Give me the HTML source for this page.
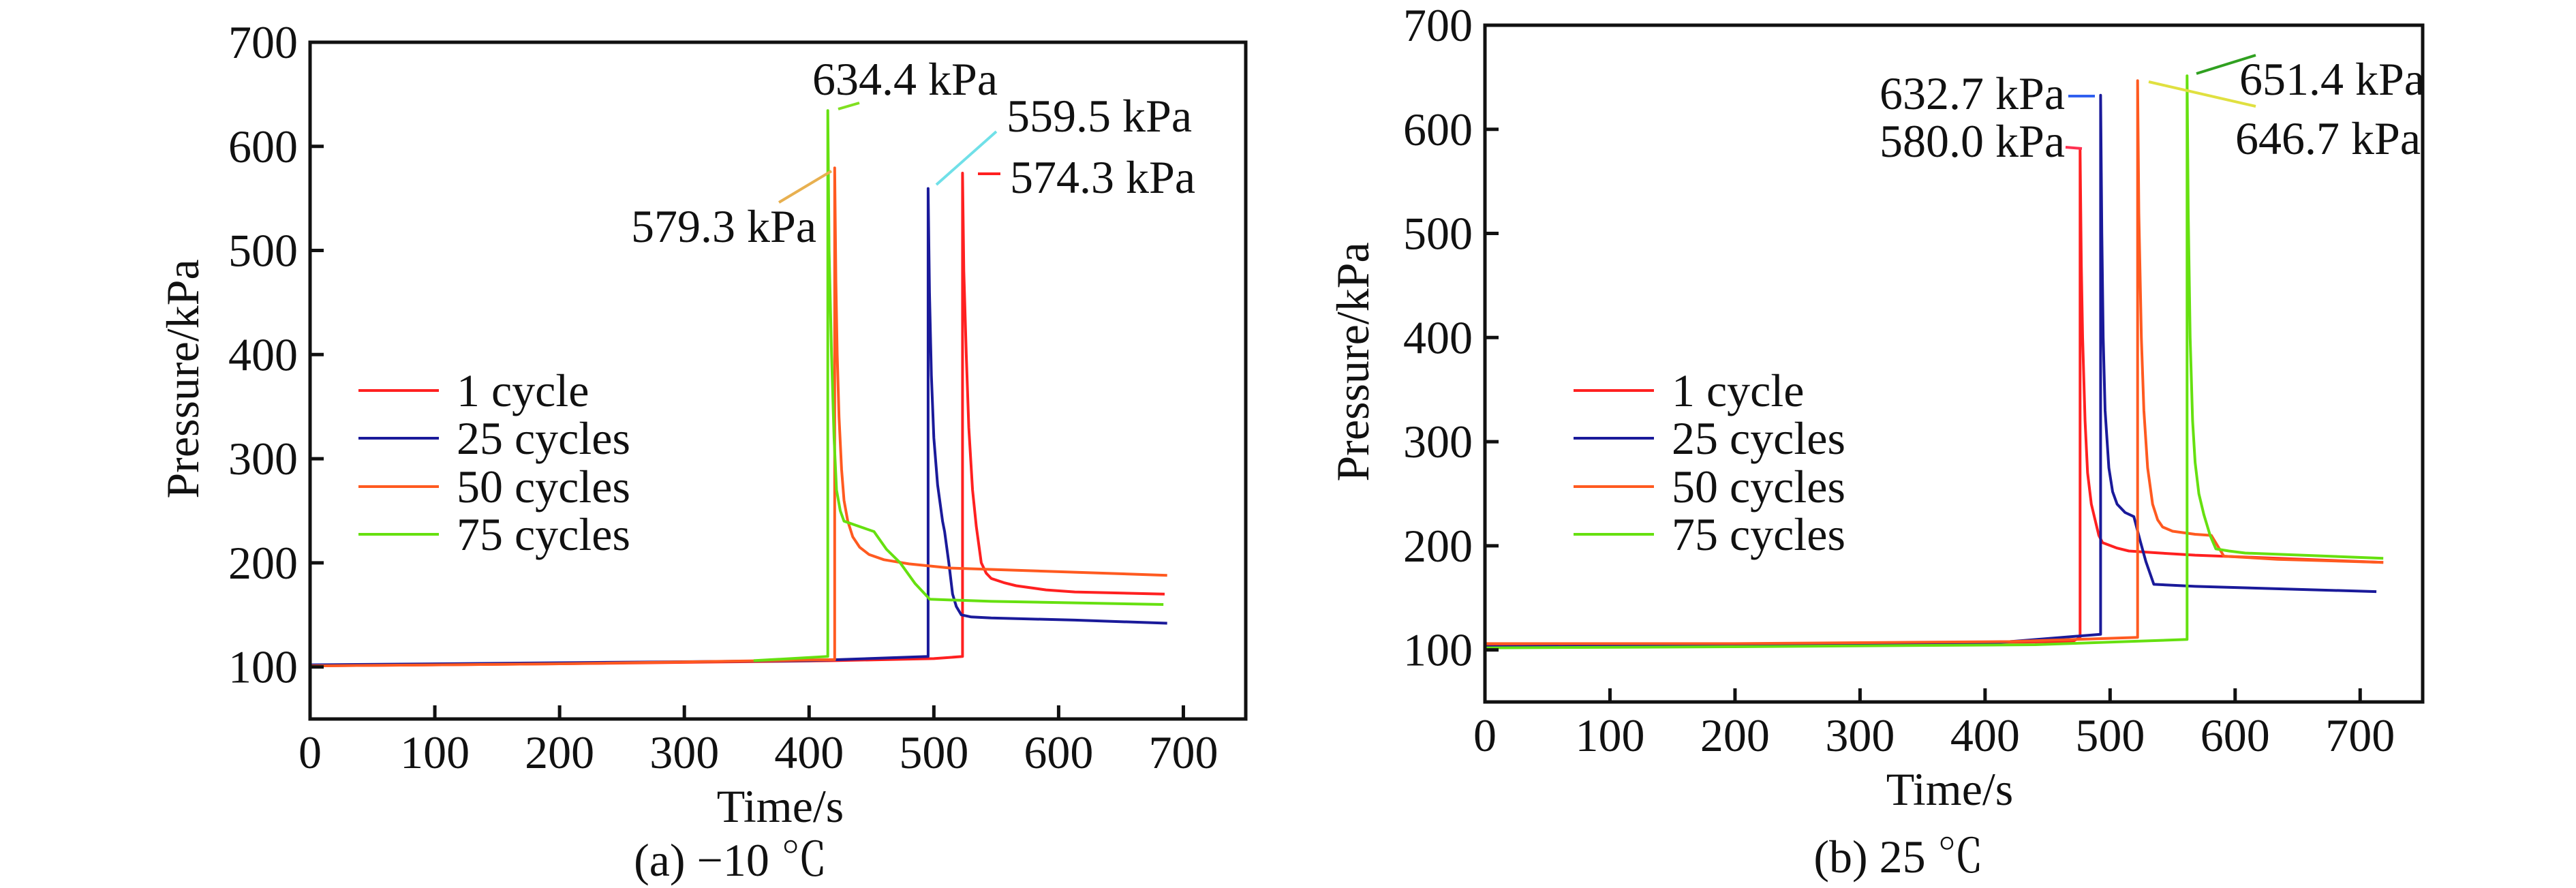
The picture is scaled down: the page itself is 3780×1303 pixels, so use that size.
<!DOCTYPE html>
<html><head><meta charset="utf-8"><style>
html,body{margin:0;padding:0;background:#fff;}
svg{display:block;}
text{font-family:"Liberation Serif","Noto Serif CJK SC",serif;font-size:68px;fill:#111;}
</style></head><body>
<svg id="fig" width="3780" height="1303" viewBox="0 0 3780 1303" xmlns="http://www.w3.org/2000/svg">
<g id="pa"></g>
<g id="pb"></g>
</svg>
<script>
// Panel (a) -10 C data
const a_t1 = [0,200,420,500,523,523,524,526,528,531,534,538,542,546,556,566,590,613,685];
const a_p1 = [101,103,106,108,110,574.3,480,400,330,270,235,200,190,185,181,178,174,172,170];
const a_t25 = [0,200,400,495.4,495.4,496.5,498,500,503,507,508.6,512,515,518,522,530,546,613,687];
const a_p25 = [102,104,106,110,559.5,460,380,320,275,240,230,200,170,158,150,148,147,145,142];
const a_t50 = [0,200,420.5,420.5,421.5,422.5,424,426,428,431,435,440.5,448,460,480,513,687];
const a_p50 = [101,103,107,579.3,470,400,340,290,260,240,225,215,208,203,199,195,188];
const a_t75 = [355.5,415,415,416,418,420,422,425,428,440,452,462,473,485,496.7,546,684];
const a_p75 = [106,110,634.4,500,400,320,270,250,240,235,230,213,200,180,165,163,160];
// Panel (b) 25 C data
const b_t1 = [0,200,470,476,476,477,478,480,482,485,488,491,494,505,515,540,568,634,718.5];
const b_p1 = [104,105,108,112,580.0,470,400,320,270,240,225,210,203,198,195,193,191,188,184];
const b_t25 = [0,200,400,492.4,492.4,493.4,494.5,496,499,502,505.6,512,519,524,528.6,535,568,713];
const b_p25 = [103,104,106,115,632.7,500,400,330,275,252,240,232,228,205,185,163,161,156];
const b_t50 = [0,200,420,522,522,523,525,527,530,534,538,542,550,568,581,591,634,718.5];
const b_p50 = [106,106,108,112,646.7,520,400,330,275,240,225,218,214,211,210,190,187,184];
const b_t75 = [0,200,440,561.6,561.6,562.5,564,566,568,571,575,580,584.6,595,608,718.5];
const b_p75 = [102,103,105,110,651.4,520,400,320,280,250,230,210,197,195,193,188];
const xTicks = [0,100,200,300,400,500,600,700];
const yTicks = [100,200,300,400,500,600,700];
const legendLabels = ["1 cycle","25 cycles","50 cycles","75 cycles"];
const colors = ["#ff2020","#1a1a9a","#ff5a20","#66e010"];

const NS="http://www.w3.org/2000/svg";
function mk(parent,tag,attrs){const e=document.createElementNS(NS,tag);for(const k in attrs)e.setAttribute(k,attrs[k]);parent.appendChild(e);return e;}

function panel(g,cfg){
  const L=cfg.left,T=cfg.top,B=cfg.bottom,R=cfg.right;
  const sx=t=>L+(t-0)/750*(R-L);
  const sy=p=>B-(p-50)/650*(B-T);
  cfg.series.forEach((s,i)=>{
    const d=s.t.map((t,j)=>(j?'L':'M')+sx(t).toFixed(1)+' '+sy(s.p[j]).toFixed(1)).join(' ');
    const p=mk(g,'path',{d:d,fill:'none',stroke:colors[i],'stroke-width':4,'stroke-linejoin':'round'});
    
    
  });
  const f=mk(g,'rect',{x:L,y:T,width:R-L,height:B-T,fill:'none',stroke:'#111','stroke-width':5});
  
  
  xTicks.forEach(v=>{
    const x=sx(v);
    if(v>0){const tk=mk(g,'line',{x1:x,x2:x,y1:B,y2:B-20,stroke:'#111','stroke-width':5});
      
      }
    const tx=mk(g,'text',{x:x,y:cfg.xLabY+23,'text-anchor':'middle'});tx.textContent=v;
    
    
  });
  yTicks.forEach(v=>{
    const y=sy(v);
    if(v<700){const tk=mk(g,'line',{x1:L,x2:L+20,y1:y,y2:y,stroke:'#111','stroke-width':5});
      
      }
    const tx=mk(g,'text',{x:L-18,y:y+23,'text-anchor':'end'});tx.textContent=v;
    
    
  });
  const xt=mk(g,'text',{x:cfg.xTitle[0],y:cfg.xTitle[1]+23,'text-anchor':'middle'});xt.textContent='Time/s';
  
  
  const yt=mk(g,'text',{x:0,y:0,'text-anchor':'middle',transform:'translate('+(cfg.yTitle[0]+23)+','+cfg.yTitle[1]+') rotate(-90)'});yt.textContent='Pressure/kPa';
  
  
  const cap=mk(g,'text',{x:cfg.cap[0],y:cfg.cap[1]+23,'text-anchor':'middle'});cap.textContent=cfg.cap[2];
  
  
  legendLabels.forEach((lab,i)=>{
    const y=cfg.legY[i];
    const ln=mk(g,'line',{x1:cfg.legX,x2:cfg.legX+118,y1:y,y2:y,stroke:colors[i],'stroke-width':4});
    
    
    const tx=mk(g,'text',{x:cfg.legX+144,y:y+23});tx.textContent=lab;
    
    
  });
  cfg.notes.forEach(n=>{
    const tx=mk(g,'text',{x:n.x,y:n.y+23});tx.textContent=n.txt;
    
    
    const ln=mk(g,'line',{x1:n.l[0],y1:n.l[1],x2:n.l[2],y2:n.l[3],stroke:n.c,'stroke-width':4});
    
    
  });
}

panel(document.getElementById('pa'),{
  left:455,right:1828,top:62,bottom:1055,
  series:[{t:a_t1,p:a_p1},{t:a_t25,p:a_p25},{t:a_t50,p:a_p50},{t:a_t75,p:a_p75}],
  xLabY:1104,xTitle:[1145,1183],yTitle:[268,556],cap:[1072,1262,'(a) \u221210 \u2103'],
  legX:526,legY:[573,643,714,784],
  notes:[
    {txt:'634.4 kPa',x:1192,y:116,l:[1230,160,1261,151],c:'#80e020'},
    {txt:'559.5 kPa',x:1477,y:170,l:[1374,271,1462,193],c:'#70e0e8'},
    {txt:'574.3 kPa',x:1482,y:260,l:[1435,255,1468,255],c:'#ff2020'},
    {txt:'579.3 kPa',x:926,y:332,l:[1143,297,1220,251],c:'#e8b050'}
  ]
});
panel(document.getElementById('pb'),{
  left:2179,right:3555,top:37,bottom:1030,
  series:[{t:b_t1,p:b_p1},{t:b_t25,p:b_p25},{t:b_t50,p:b_p50},{t:b_t75,p:b_p75}],
  xLabY:1079,xTitle:[2861,1158],yTitle:[1985,531],cap:[2786,1257,'(b) 25 \u2103'],
  legX:2309,legY:[573,643,714,784],
  notes:[
    {txt:'632.7 kPa',x:2758,y:137,l:[3035,141,3074,141],c:'#3060f0'},
    {txt:'580.0 kPa',x:2758,y:207,l:[3031,216,3055,218],c:'#ff3050'},
    {txt:'651.4 kPa',x:3286,y:116,l:[3223,108,3310,81],c:'#30a020'},
    {txt:'646.7 kPa',x:3280,y:203,l:[3153,120,3310,156],c:'#e0e040'}
  ]
});
</script>
</body></html>
